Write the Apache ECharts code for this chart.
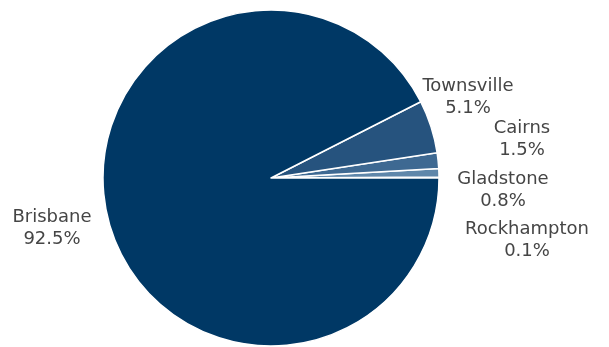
<!DOCTYPE html>
<html><head><meta charset="utf-8">
<script src="https://cdn.jsdelivr.net/npm/echarts@6/dist/echarts.min.js"></script>
<style>html,body{margin:0;padding:0;background:#fff}#c{width:609px;height:347px}</style>
</head><body><div id="c"></div>
<script>
const categories = ["Rockhampton", "Gladstone", "Cairns", "Townsville", "Brisbane"];
const values = [0.1, 0.8, 1.5, 5.1, 92.5];
const colors = ["#7fa0bd", "#5f87aa", "#3e6992", "#26537e", "#003865"];
// label anchor points (pixel positions of label centres)
const labelPos = {
  Rockhampton: [527, 240],
  Gladstone: [503, 190],
  Cairns: [522, 139],
  Townsville: [468, 97],
  Brisbane: [52, 228]
};
const chart = echarts.init(document.getElementById('c'), null, {renderer: 'canvas'});
chart.setOption({
  animation: false,
  series: [{
    type: 'pie',
    center: [271, 178],
    radius: [0, 168],
    startAngle: 0,
    clockwise: false,
    avoidLabelOverlap: false,
    data: categories.map((n, i) => ({name: n, value: values[i], itemStyle: {color: colors[i]}})),
    itemStyle: {borderColor: '#ffffff', borderWidth: 1.5},
    label: {
      show: true,
      position: 'outside',
      formatter: p => p.name + '\n' + p.value.toFixed(1) + '%',
      fontFamily: '"DejaVu Sans", sans-serif',
      fontSize: 18,
      lineHeight: 22,
      color: '#454545',
      align: 'center'
    },
    labelLine: {show: false},
    labelLayout: function (params) {
      const name = categories[params.dataIndex];
      const p = labelPos[name];
      return {x: p[0], y: p[1], align: 'center', verticalAlign: 'middle'};
    },
    emphasis: {disabled: true}
  }]
});
</script></body></html>
